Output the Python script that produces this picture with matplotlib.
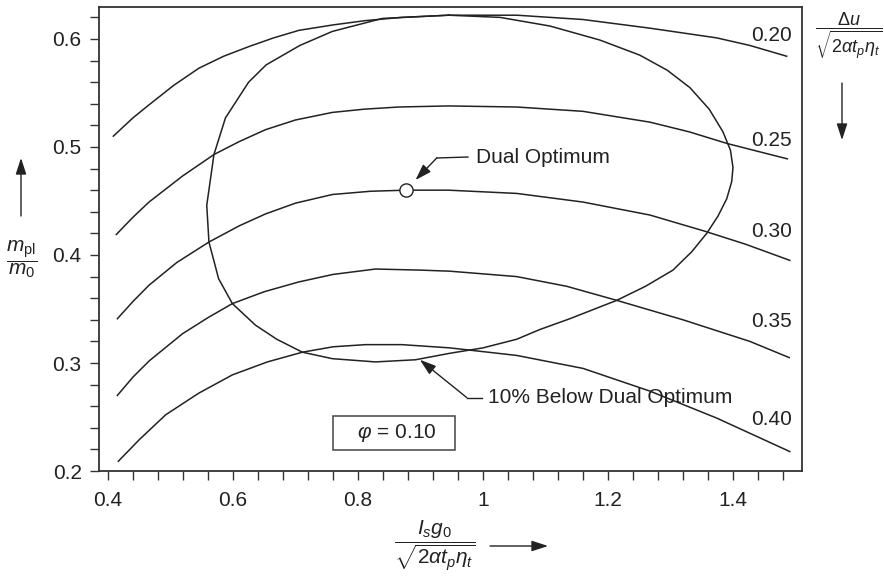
import matplotlib
matplotlib.use("Agg")
import matplotlib.pyplot as plt
from matplotlib.ticker import MultipleLocator, FixedLocator

INK = "#222222"

# Curves of constant  du / sqrt(2 alpha t_p eta_t)
curve_labels = ["0.20", "0.25", "0.30", "0.35", "0.40"]

x_020 = [0.4085, 0.44, 0.4656, 0.505, 0.5456, 0.585, 0.6256, 0.665, 0.7056, 0.76, 0.812, 0.87, 0.945,
         1.054, 1.160, 1.267, 1.374, 1.427, 1.486]
y_020 = [0.510, 0.527, 0.539, 0.557, 0.573, 0.584, 0.593, 0.601, 0.608, 0.613, 0.617, 0.620, 0.622,
         0.622, 0.618, 0.610, 0.601, 0.594, 0.584]

x_025 = [0.4133, 0.44, 0.4656, 0.519, 0.5695, 0.61, 0.652, 0.70, 0.759, 0.81, 0.865, 0.945, 1.054,
         1.160, 1.267, 1.33, 1.392, 1.487]
y_025 = [0.419, 0.435, 0.449, 0.473, 0.493, 0.505, 0.516, 0.525, 0.532, 0.535, 0.537, 0.538, 0.537,
         0.533, 0.523, 0.514, 0.503, 0.489]

x_030 = [0.415, 0.44, 0.4656, 0.51, 0.5615, 0.61, 0.652, 0.70, 0.759, 0.82, 0.876, 0.945, 1.054,
         1.160, 1.267, 1.355, 1.42, 1.491]
y_030 = [0.341, 0.357, 0.372, 0.393, 0.412, 0.427, 0.438, 0.448, 0.456, 0.459, 0.460, 0.460, 0.457,
         0.449, 0.437, 0.422, 0.410, 0.395]

x_035 = [0.415, 0.44, 0.466, 0.519, 0.56, 0.599, 0.65, 0.705, 0.76, 0.828, 0.90, 0.947, 1.054,
         1.134, 1.214, 1.320, 1.427, 1.490]
y_035 = [0.270, 0.287, 0.302, 0.327, 0.342, 0.355, 0.366, 0.375, 0.382, 0.387, 0.386, 0.385, 0.380,
         0.371, 0.358, 0.340, 0.320, 0.305]

x_040 = [0.4165, 0.45, 0.4922, 0.545, 0.599, 0.655, 0.711, 0.76, 0.812, 0.87, 0.947, 1.054, 1.160,
         1.267, 1.374, 1.491]
y_040 = [0.209, 0.229, 0.252, 0.272, 0.289, 0.301, 0.310, 0.315, 0.317, 0.317, 0.314, 0.307, 0.295,
         0.274, 0.249, 0.218]

# "10% below dual optimum" closed contour
x_ring = [0.945, 1.027, 1.107, 1.187, 1.251, 1.295, 1.331, 1.362, 1.384, 1.396, 1.400, 1.398, 1.390,
          1.376, 1.358, 1.334, 1.304, 1.260, 1.214, 1.139, 1.091, 1.054, 1.000, 0.947, 0.892, 0.828,
          0.759, 0.711, 0.670, 0.636, 0.599, 0.577, 0.5615, 0.558, 0.5695, 0.588, 0.625, 0.653,
          0.707, 0.759, 0.839, 0.945]
y_ring = [0.622, 0.620, 0.612, 0.599, 0.585, 0.571, 0.555, 0.535, 0.514, 0.497, 0.481, 0.468, 0.452,
          0.436, 0.420, 0.403, 0.386, 0.371, 0.358, 0.341, 0.331, 0.322, 0.314, 0.309, 0.303, 0.301,
          0.304, 0.310, 0.322, 0.335, 0.355, 0.378, 0.412, 0.446, 0.493, 0.527, 0.560, 0.576,
          0.594, 0.607, 0.619, 0.622]

dual_opt = (0.877, 0.460)

x_ticks = [0.4, 0.6, 0.8, 1.0, 1.2, 1.4]
x_ticklabels = ["0.4", "0.6", "0.8", "1", "1.2", "1.4"]
y_ticks = [0.2, 0.3, 0.4, 0.5, 0.6]
y_ticklabels = ["0.2", "0.3", "0.4", "0.5", "0.6"]


def set_style():
    plt.rcParams["font.family"] = ["Liberation Sans", "DejaVu Sans"]
    plt.rcParams["font.size"] = 15
    plt.rcParams["mathtext.fontset"] = "custom"
    plt.rcParams["mathtext.rm"] = "Liberation Sans"
    plt.rcParams["mathtext.it"] = "Liberation Sans:italic"
    plt.rcParams["mathtext.bf"] = "Liberation Sans:bold"
    plt.rcParams["text.color"] = INK
    plt.rcParams["axes.edgecolor"] = "#333333"
    plt.rcParams["axes.linewidth"] = 1.3
    plt.rcParams["xtick.color"] = "#333333"
    plt.rcParams["ytick.color"] = "#333333"
    plt.rcParams["xtick.labelcolor"] = INK
    plt.rcParams["ytick.labelcolor"] = INK


def arrow(ax, tip, tail, coords="data"):
    ax.annotate("", xy=tip, xytext=tail, xycoords=coords, textcoords=coords,
                annotation_clip=False,
                arrowprops=dict(arrowstyle="-|>,head_length=0.55,head_width=0.18",
                                color=INK, lw=1.0, shrinkA=0, shrinkB=0,
                                mutation_scale=18))


def main():
    set_style()
    fig = plt.figure(figsize=(8.84, 5.78), dpi=100)
    ax = fig.add_axes([0.112, 0.1851, 0.7952, 0.8028])

    curves = [(x_020, y_020), (x_025, y_025), (x_030, y_030), (x_035, y_035), (x_040, y_040)]
    label_y = [0.603, 0.506, 0.422, 0.338, 0.248]
    for (xs, ys), lab, ly in zip(curves, curve_labels, label_y):
        ax.plot(xs, ys, color=INK, lw=1.1, solid_joinstyle="round")
        ax.text(1.494, ly, lab, ha="right", va="center", fontsize=15)

    ax.plot(x_ring, y_ring, color=INK, lw=1.1, solid_joinstyle="round")
    ax.plot(*dual_opt, marker="o", ms=9.5, mfc="white", mec=INK, mew=1.0)

    # leaders
    ax.plot([0.976, 0.926], [0.4907, 0.4898], color=INK, lw=1.0)
    arrow(ax, (0.892, 0.4694), (0.926, 0.4898))
    ax.text(0.989, 0.4907, "Dual Optimum", ha="left", va="center", fontsize=15)

    ax.plot([0.998, 0.974], [0.268, 0.268], color=INK, lw=1.0)
    arrow(ax, (0.899, 0.303), (0.974, 0.268))
    ax.text(1.008, 0.2685, "10% Below Dual Optimum", ha="left", va="center", fontsize=15)

    ax.text(0.858, 0.235, "   $\\varphi$ = 0.10   ", ha="center", va="center", fontsize=15,
            bbox=dict(boxstyle="square,pad=0.3", fc="white", ec="#444444", lw=1.1))

    ax.set_xlim(0.3856, 1.5104)
    ax.set_ylim(0.2, 0.6296)
    ax.xaxis.set_major_locator(FixedLocator(x_ticks))
    ax.set_xticklabels(x_ticklabels)
    ax.xaxis.set_minor_locator(MultipleLocator(0.04))
    ax.yaxis.set_major_locator(FixedLocator(y_ticks))
    ax.set_yticklabels(y_ticklabels)
    ax.yaxis.set_minor_locator(MultipleLocator(0.02))
    ax.tick_params(which="both", direction="out", length=6.5, width=1.0)
    ax.tick_params(axis="x", which="major", pad=8, labelsize=15)
    ax.tick_params(axis="y", which="major", pad=6, labelsize=15)

    # axis labels drawn as stacked fractions with arrows (figure pixels)
    fig.text(22, 319, r"$\dfrac{m_\mathrm{pl}}{m_0}$", transform=None, ha="center", va="center",
             fontsize=15)
    arrow(ax, (21, 420), (21, 362), coords="figure pixels")

    fig.text(849, 542, r"$\dfrac{\Delta u}{\sqrt{2\alpha t_p \eta_t}}$", transform=None,
             ha="center", va="center", fontsize=13)
    arrow(ax, (842, 438), (842, 495), coords="figure pixels")

    fig.text(435, 32, r"$\dfrac{I_s g_0}{\sqrt{2\alpha t_p \eta_t}}$", transform=None,
             ha="center", va="center", fontsize=15)
    arrow(ax, (548, 32), (490, 32), coords="figure pixels")

    fig.savefig("out.png", dpi=100)


if __name__ == "__main__":
    main()
